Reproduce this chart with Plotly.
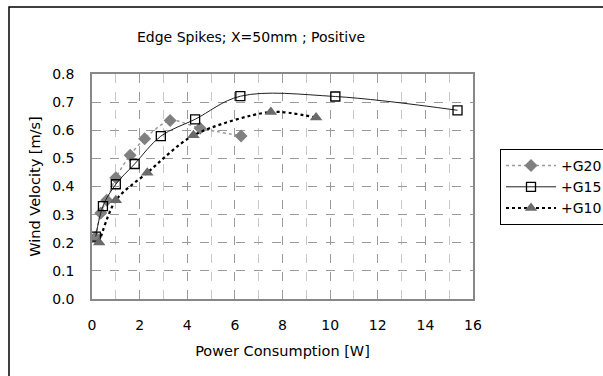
import plotly.graph_objects as go

title = "Edge Spikes; X=50mm ; Positive"
x_title = "Power Consumption [W]"
y_title = "Wind Velocity [m/s]"

g20_x = [0.15, 0.37, 0.62, 1.0, 1.6, 2.21, 3.28, 4.54, 6.26]
g20_y = [0.22, 0.306, 0.351, 0.431, 0.511, 0.570, 0.635, 0.607, 0.580]

g15_x = [0.16, 0.46, 1.0, 1.79, 2.89, 4.33, 6.23, 10.22, 15.35]
g15_y = [0.222, 0.33, 0.408, 0.48, 0.579, 0.639, 0.721, 0.720, 0.671]

g10_x = [0.30, 1.0, 2.32, 4.26, 7.51, 9.41]
g10_y = [0.201, 0.351, 0.449, 0.582, 0.665, 0.645]

FONT = "DejaVu Sans"

fig = go.Figure()
fig.add_trace(go.Scatter(
    x=g20_x, y=g20_y, name="+G20", mode="lines+markers",
    line=dict(color="#9a9a9a", width=1.5, dash="dot", shape="spline", smoothing=0.8),
    marker=dict(symbol="diamond", size=10, color="#808080"),
))
fig.add_trace(go.Scatter(
    x=g15_x, y=g15_y, name="+G15", mode="lines+markers",
    line=dict(color="#202020", width=1, shape="spline", smoothing=1.0),
    marker=dict(symbol="square-open", size=9, color="#000000", line=dict(width=1.3)),
))
fig.add_trace(go.Scatter(
    x=g10_x, y=g10_y, name="+G10", mode="lines+markers",
    line=dict(color="#000000", width=2.2, dash="dot", shape="spline", smoothing=0.8),
    marker=dict(symbol="triangle-up", size=11, color="#6a6a6a"),
))

L, R, T, B = 92, 473, 74, 299
W, H = 603, 376
pw, ph = R - L, B - T

def px(xp):
    return (xp - L) / pw

def py(yp):
    return (B - yp) / ph

fig.update_layout(
    width=W, height=H,
    margin=dict(l=L, r=W - R, t=T, b=H - B, pad=0, autoexpand=False),
    paper_bgcolor="white", plot_bgcolor="white",
    font=dict(family=FONT, size=13, color="#000000"),
    showlegend=True,
    legend=dict(
        x=px(500), y=py(149), xanchor="left", yanchor="top",
        bordercolor="#000000", borderwidth=1, bgcolor="white",
        font=dict(family=FONT, size=14), itemwidth=50,
        tracegroupgap=0,
    ),
    xaxis=dict(
        range=[0, 16], dtick=2, tick0=0, showline=True, mirror=True,
        linecolor="#888888", linewidth=1.5,
        showgrid=True, gridcolor="#9a9a9a", griddash="dash", gridwidth=1,
        minor=dict(dtick=1, showgrid=True, gridcolor="#c8c8c8", griddash="dash", gridwidth=1),
        ticks="", zeroline=False, ticklabelstandoff=12,
        tickfont=dict(family=FONT, size=14),
        title=dict(text=x_title, font=dict(family=FONT, size=14.5), standoff=14),
    ),
    yaxis=dict(
        range=[0, 0.8], dtick=0.1, tick0=0, tickformat=".1f", showline=True, mirror=True,
        linecolor="#888888", linewidth=1.5,
        showgrid=True, gridcolor="#9a9a9a", griddash="dash", gridwidth=1,
        ticks="", zeroline=False, ticklabelstandoff=13,
        tickfont=dict(family=FONT, size=14),
        title=dict(text=y_title, font=dict(family=FONT, size=14.5), standoff=8),
    ),
    annotations=[dict(
        text=title, xref="paper", yref="paper", x=px(251), y=py(37),
        xanchor="center", yanchor="middle", showarrow=False,
        font=dict(family=FONT, size=14),
    )],
    shapes=[dict(
        type="rect", xref="paper", yref="paper",
        x0=px(9), x1=px(700), y0=py(450), y1=py(7),
        line=dict(color="#000000", width=1.5), fillcolor="rgba(0,0,0,0)", layer="below",
    )],
)

fig.write_html("out.html")
